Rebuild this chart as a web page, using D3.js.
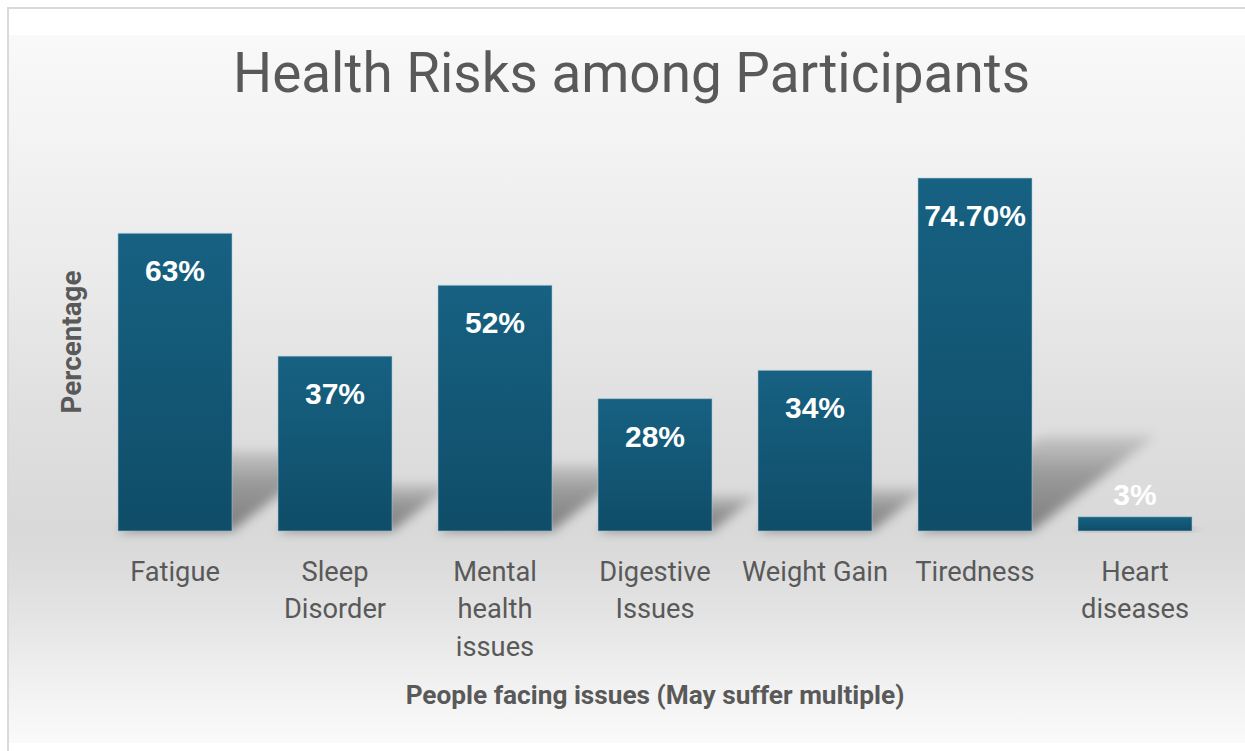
<!DOCTYPE html>
<html>
<head>
<meta charset="utf-8">
<script src="https://cdn.jsdelivr.net/npm/d3@7"></script>
<style>
  html, body { margin: 0; padding: 0; background: #ffffff; }
  svg { display: block; }
</style>
</head>
<body>
<svg id="chart" width="1245" height="751"></svg>
<script>
// Share of participants reporting each health issue (respondents may report several)
const categories = ["Fatigue", "Sleep Disorder", "Mental health issues", "Digestive Issues", "Weight Gain", "Tiredness", "Heart diseases"];
const values = [63, 37, 52, 28, 34, 74.7, 3];
const valueLabels = ["63%", "37%", "52%", "28%", "34%", "74.70%", "3%"];
const tickLines = [["Fatigue"], ["Sleep", "Disorder"], ["Mental", "health", "issues"], ["Digestive", "Issues"], ["Weight Gain"], ["Tiredness"], ["Heart", "diseases"]];
const yDomain = [0, 80];

const W = 1245, H = 751;
const svg = d3.select("#chart");
const defs = svg.append("defs");

const textFont = "Roboto, 'Noto Sans', sans-serif";
const textColor = "#595959";

// Scale a text element's font size so that it spans the given width
function fitWidth(sel, target) {
  const node = sel.node();
  const size = parseFloat(sel.attr("font-size"));
  const w = node.getComputedTextLength();
  const s = size * target / w;
  sel.attr("font-size", s);
  return s;
}

// ---- chart area background -------------------------------------------------
const bg = defs.append("linearGradient").attr("id", "bgGrad")
  .attr("x1", 0).attr("y1", 0).attr("x2", 0).attr("y2", 1);
[[0, "#f9f9f9"], [0.15, "#f3f3f3"], [0.37, "#e9e9e9"], [0.54, "#dfdfdf"],
 [0.70, "#d9d9d9"], [0.75, "#dcdcdc"], [0.83, "#e5e5e5"], [0.91, "#f0f0f0"], [1, "#fafafa"]]
  .forEach(([o, c]) => bg.append("stop").attr("offset", o).attr("stop-color", c));

svg.append("rect").attr("x", 8).attr("y", 8).attr("width", W + 10).attr("height", H + 10)
  .attr("fill", "#ffffff").attr("stroke", "#d9d9d9").attr("stroke-width", 2);
svg.append("rect").attr("x", 9).attr("y", 35).attr("width", W).attr("height", 708)
  .attr("fill", "url(#bgGrad)");

// ---- scales ------------------------------------------------------------------
const x = d3.scaleBand().domain(categories).range([95, 1215])
  .paddingInner(0.2875).paddingOuter(0.14375);
const y = d3.scaleLinear().domain(yDomain).range([531, 153]);
const base = y(0);

// ---- perspective shadows ---------------------------------------------------
const blur = defs.append("filter").attr("id", "shadowBlur")
  .attr("x", "-30%").attr("y", "-30%").attr("width", "160%").attr("height", "160%");
blur.append("feGaussianBlur").attr("stdDeviation", 5.5);

const shGrad = defs.append("linearGradient").attr("id", "shadowGrad")
  .attr("x1", 0).attr("y1", 1).attr("x2", 0).attr("y2", 0);
shGrad.append("stop").attr("offset", 0).attr("stop-color", "#000").attr("stop-opacity", 0.42);
shGrad.append("stop").attr("offset", 0.6).attr("stop-color", "#000").attr("stop-opacity", 0.3);
shGrad.append("stop").attr("offset", 1).attr("stop-color", "#000").attr("stop-opacity", 0.1);

svg.append("g").selectAll("path").data(values).join("path")
  .attr("d", (v, i) => {
    const x0 = x(categories[i]), x1 = x0 + x.bandwidth();
    const h = base - y(v);
    const sh = 0.27 * h, dx = 0.35 * h;
    return `M${x0},${base} L${x1},${base} L${x1 + dx},${base - sh} L${x0 + dx},${base - sh} Z`;
  })
  .attr("fill", "url(#shadowGrad)")
  .attr("filter", "url(#shadowBlur)");

// ---- bars ----------------------------------------------------------------------
const barGrad = defs.append("linearGradient").attr("id", "barGrad")
  .attr("x1", 0).attr("y1", 0).attr("x2", 0).attr("y2", 1);
barGrad.append("stop").attr("offset", 0).attr("stop-color", "#176182");
barGrad.append("stop").attr("offset", 1).attr("stop-color", "#0f4d68");

svg.append("g").selectAll("rect").data(values).join("rect")
  .attr("x", (v, i) => x(categories[i]))
  .attr("y", v => y(v))
  .attr("width", x.bandwidth())
  .attr("height", v => base - y(v))
  .attr("fill", "url(#barGrad)")
  .attr("stroke", "rgba(170,200,215,0.55)")
  .attr("stroke-width", 1);

// ---- value labels --------------------------------------------------------------
svg.append("g").selectAll("text").data(values).join("text")
  .attr("x", (v, i) => x(categories[i]) + x.bandwidth() / 2)
  .attr("y", v => (base - y(v) > 60 ? y(v) + 48 : y(v) - 12))
  .attr("text-anchor", "middle")
  .attr("font-family", "'Liberation Sans', Arial, sans-serif")
  .attr("font-weight", "bold")
  .attr("font-size", 30)
  .attr("fill", "#ffffff")
  .text((v, i) => valueLabels[i]);

// ---- category axis ---------------------------------------------------------------
const xAxis = svg.append("g").attr("transform", `translate(0,${base})`)
  .call(d3.axisBottom(x).tickSize(0).tickPadding(0));
xAxis.select(".domain").remove();
xAxis.selectAll(".tick text").remove();

const probe = svg.append("text").attr("font-family", textFont).attr("font-size", 26)
  .text(tickLines[4][0]);
const tickSize = fitWidth(probe, 146);
probe.remove();

xAxis.selectAll(".tick").each(function (d, i) {
  const t = d3.select(this).append("text")
    .attr("text-anchor", "middle")
    .attr("font-family", textFont)
    .attr("font-size", tickSize)
    .attr("fill", textColor);
  tickLines[i].forEach((line, k) => {
    t.append("tspan").attr("x", 0).attr("y", 49.5 + k * 37.5).text(line);
  });
});

// ---- titles --------------------------------------------------------------------------
const title = svg.append("text")
  .attr("x", 631.5).attr("y", 92)
  .attr("text-anchor", "middle")
  .attr("font-family", textFont)
  .attr("font-size", 58)
  .attr("fill", textColor)
  .text("Health Risks among Participants");
fitWidth(title, 797);

const xTitle = svg.append("text")
  .attr("x", (x.range()[0] + x.range()[1]) / 2).attr("y", 704)
  .attr("text-anchor", "middle")
  .attr("font-family", textFont)
  .attr("font-weight", "bold")
  .attr("font-size", 26)
  .attr("fill", textColor)
  .text("People facing issues (May suffer multiple)");
fitWidth(xTitle, 499);

const yTitle = svg.append("text")
  .attr("transform", `translate(81,${(y.range()[0] + y.range()[1]) / 2}) rotate(-90)`)
  .attr("text-anchor", "middle")
  .attr("font-family", textFont)
  .attr("font-weight", "bold")
  .attr("font-size", 26)
  .attr("fill", textColor)
  .text("Percentage");
fitWidth(yTitle, 143);
</script>
</body>
</html>
